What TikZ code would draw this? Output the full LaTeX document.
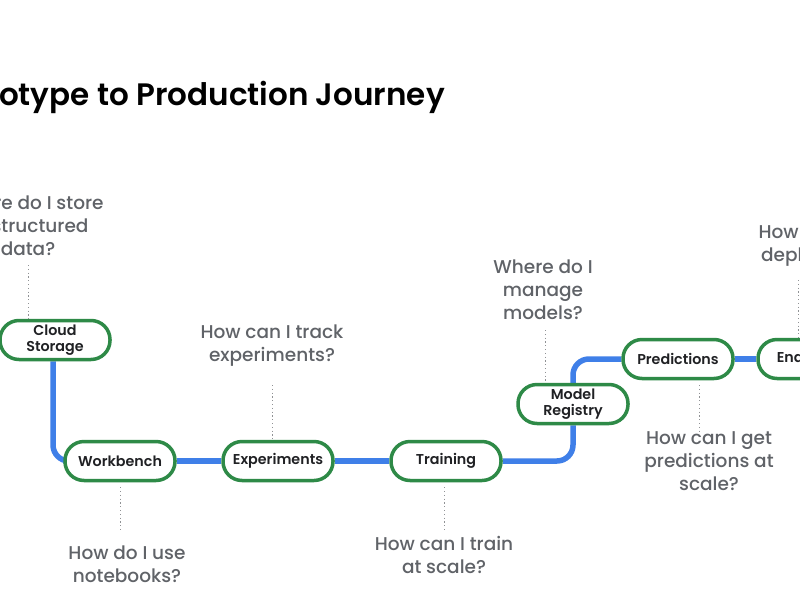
\documentclass[tikz,border=0pt]{standalone}
\usepackage{fontspec}
\setmainfont{Poppins}
\newfontfamily\medfont{Poppins}[UprightFont=* Medium, BoldFont=* SemiBold]
\usetikzlibrary{backgrounds}
\definecolor{gblue}{HTML}{3F7FE8}
\definecolor{ggreen}{HTML}{2E8A47}
\definecolor{qgray}{HTML}{606368}
\definecolor{tdark}{HTML}{202124}
\begin{document}
\begin{tikzpicture}[x=1pt,y=-1pt,
  stage/.style={draw=ggreen, line width=3.5pt, fill=white, rounded corners=19pt,
    minimum width=110pt, minimum height=39pt, inner sep=0pt, align=center,
    font=\medfont\bfseries\fontsize{14.3}{16.5}\selectfont, text=tdark},
  question/.style={align=center, inner sep=0pt, text=qgray,
    font=\medfont\fontsize{18.5}{23}\selectfont},
  flow/.style={draw=gblue, line width=5.5pt, rounded corners=16pt},
  dotline/.style={draw=qgray!70, line width=0.9pt, dash pattern=on 1.2pt off 2.6pt}]
\useasboundingbox (0,0) rectangle (800,600);
\clip (0,0) rectangle (800,600);

\node[anchor=base east, inner sep=0pt, text=black, font=\medfont\bfseries\fontsize{31}{35}\selectfont] (title) at (445,105) {Prototype to Production Journey};

\node[stage] (cs) at (55,340) {Cloud\\Storage};
\node[stage] (wb) at (120,461) {Workbench};
\node[stage] (ex) at (278,461) {Experiments};
\node[stage] (tr) at (446,461) {Training};
\node[stage] (mr) at (573,404) {Model\\Registry};
\node[stage] (pr) at (678,359) {Predictions};
\node[stage] (en) at (813,359) {Endpoints};

\begin{scope}[on background layer]
\fill[white] (0,0) rectangle (800,600);
\draw[flow] ([xshift=-2pt]cs.south) |- (wb.west);
\draw[flow] (wb.east) -- (ex.west);
\draw[flow] (ex.east) -- (tr.west);
\draw[flow] (tr.east) -| (mr.south);
\draw[flow] (mr.north) |- (pr.west);
\draw[flow] (pr.east) -- (en.west);
\end{scope}

\node[question] (q1) at (28,226) {Where do I store\\unstructured\\data?};
\node[question] (q2) at (272,346) {How can I track\\experiments?};
\node[question] (q3) at (127,564) {How do I use\\notebooks?};
\node[question] (q4) at (444,555) {How can I train\\at scale?};
\node[question] (q5) at (543,290) {Where do I\\manage\\models?};
\node[question] (q6) at (709,461) {How can I get\\predictions at\\scale?};
\node[question] (q7) at (798,246) {How do I\\deploy?};

\coordinate (d1) at (28,265);
\coordinate (d2) at (272,385);
\coordinate (d3) at (120,530);
\coordinate (d4) at (444,530);
\coordinate (d5) at (545,330);
\coordinate (d6a) at (699,385);
\coordinate (d6b) at (699,433);
\coordinate (d7) at (798,280);

\draw[dotline] (d1) -- (d1 |- cs.north);
\draw[dotline] (d2) -- (d2 |- ex.north);
\draw[dotline] ([yshift=-5pt]wb.south) -- (d3);
\draw[dotline] ([yshift=-5pt]d4 |- tr.south) -- (d4);
\draw[dotline] (d5) -- (d5 |- mr.north);
\draw[dotline] (d6a) -- (d6b);
\draw[dotline] (d7) -- (d7 |- en.north);
\end{tikzpicture}
\end{document}
